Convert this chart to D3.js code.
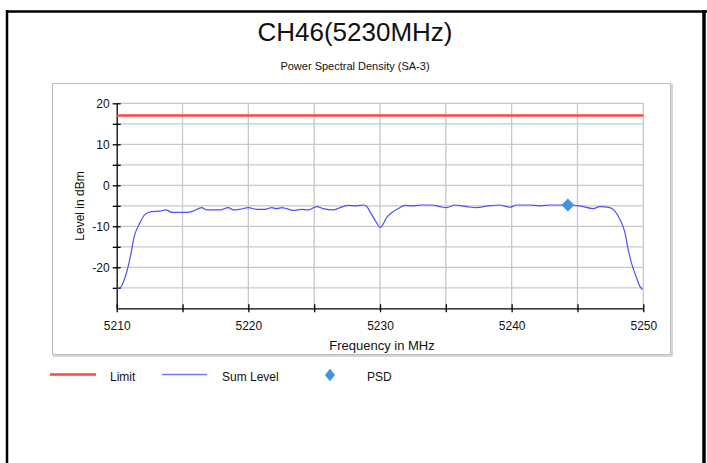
<!DOCTYPE html>
<html lang="en">
<head>
<meta charset="utf-8">
<title>CH46(5230MHz)</title>
<script src="https://d3js.org/d3.v7.min.js"></script>
<style>
  body { margin: 0; background: #fff; }
  svg { display: block; font-family: "Liberation Sans", Arial, sans-serif; }
</style>
</head>
<body>
<svg id="chart" width="707" height="463"></svg>
<script>
// values
const chartTitle = "CH46(5230MHz)";
const plotTitle = "Power Spectral Density (SA-3)";
const xLabel = "Frequency in MHz";
const yLabel = "Level in dBm";

const freqs = [5210.0, 5210.25, 5210.63, 5211.0, 5211.34, 5211.77, 5212.15, 5212.66, 5213.3, 5213.74,
  5214.18, 5215.3, 5215.8, 5216.45, 5216.83, 5217.84, 5218.48, 5218.86, 5219.36, 5220.0,
  5220.63, 5221.26, 5221.77, 5222.15, 5222.53, 5222.9, 5223.4, 5224.05, 5224.55, 5225.19,
  5225.69, 5226.45, 5226.96, 5227.59, 5228.2, 5228.72, 5228.93, 5229.36, 5229.74, 5230.02,
  5230.5, 5230.88, 5231.38, 5231.89, 5232.52, 5233.16, 5233.92, 5234.55, 5235.06, 5235.69,
  5236.58, 5237.34, 5238.22, 5239.1, 5239.86, 5240.37, 5241.38, 5242.14, 5242.9, 5244.27,
  5245.18, 5246.19, 5246.7, 5247.46, 5247.84, 5248.22, 5248.6, 5248.85, 5249.1, 5249.48,
  5249.73, 5249.94];
const sumLevel = [-25.1, -25.0, -22.5, -18.0, -12.4, -9.1, -7.1, -6.4, -6.3, -6.0,
  -6.6, -6.6, -6.3, -5.45, -6.0, -6.0, -5.45, -6.0, -5.85, -5.45,
  -5.85, -5.85, -5.45, -5.7, -5.45, -5.7, -6.1, -5.85, -6.0, -5.2,
  -5.7, -6.0, -5.45, -4.9, -5.0, -4.8, -5.0, -7.1, -9.1, -10.3,
  -7.9, -6.7, -5.7, -4.9, -5.0, -4.8, -4.8, -5.2, -5.45, -4.8,
  -5.2, -5.45, -5.0, -4.8, -5.35, -4.8, -4.8, -5.0, -4.8, -4.8,
  -5.0, -5.7, -5.2, -5.45, -6.3, -8.3, -11.5, -15.6, -18.9, -22.5,
  -24.6, -25.4];

const limitLevel = 17;
const psdFreq = 5244.27;
const psdLevel = -4.8;

const xDomain = [5210, 5250];
const yDomain = [-30, 20];
const xTickValues = [5210, 5215, 5220, 5225, 5230, 5235, 5240, 5245, 5250];
const yTickValues = [-25, -20, -15, -10, -5, 0, 5, 10, 15, 20];

const legendItems = ["Limit", "Sum Level", "PSD"];

const colors = { limit: "#ff4444", sum: "#4f4fff", psd: "#3c96e0", grid: "#c8c8c8" };

const svg = d3.select("#chart");

// outer frame
svg.append("line").attr("x1", 6).attr("x2", 707).attr("y1", 11.5).attr("y2", 11.5)
  .attr("stroke", "#000").attr("stroke-width", 2.5);
svg.append("line").attr("x1", 7).attr("x2", 7).attr("y1", 10).attr("y2", 463)
  .attr("stroke", "#000").attr("stroke-width", 2.5);
svg.append("line").attr("x1", 704).attr("x2", 704).attr("y1", 10).attr("y2", 463)
  .attr("stroke", "#000").attr("stroke-width", 3.5);

svg.append("text").attr("x", 355).attr("y", 41).attr("text-anchor", "middle")
  .attr("font-size", 26).attr("fill", "#111").text(chartTitle);
svg.append("text").attr("x", 355).attr("y", 70).attr("text-anchor", "middle")
  .attr("font-size", 11).attr("fill", "#111").text(plotTitle);

// chart panel with a light shadow
svg.append("rect").attr("x", 52.5).attr("y", 83.5).attr("width", 618).attr("height", 271)
  .attr("fill", "#fff").attr("stroke", "#bdbdbd");
svg.append("line").attr("x1", 672).attr("x2", 672).attr("y1", 84).attr("y2", 356)
  .attr("stroke", "#d6d6d6").attr("stroke-width", 2);
svg.append("line").attr("x1", 53).attr("x2", 672).attr("y1", 356).attr("y2", 356)
  .attr("stroke", "#d6d6d6").attr("stroke-width", 2);

const x = d3.scaleLinear().domain(xDomain).range([116.7, 643.3]);
const y = d3.scaleLinear().domain(yDomain).range([308.3, 103.3]);

// grid
svg.append("g").selectAll("line").data(xTickValues.slice(1)).join("line")
  .attr("x1", d => x(d)).attr("x2", d => x(d)).attr("y1", y(yDomain[0])).attr("y2", y(20))
  .attr("stroke", colors.grid).attr("stroke-width", 1.3);
svg.append("g").selectAll("line").data(yTickValues).join("line")
  .attr("x1", x(xDomain[0])).attr("x2", x(xDomain[1])).attr("y1", d => y(d)).attr("y2", d => y(d))
  .attr("stroke", colors.grid).attr("stroke-width", 1.3);

// axes, ticks crossing the axis line
const yAxis = svg.append("g").attr("transform", `translate(${x(xDomain[0])},0)`)
  .call(d3.axisLeft(y).tickValues(yTickValues).tickSize(4).tickSizeOuter(0)
    .tickFormat(d => d % 10 === 0 ? d : ""));
yAxis.selectAll(".tick line").attr("x1", -4).attr("x2", 4);
yAxis.selectAll(".tick text").attr("x", -7);

const xAxis = svg.append("g").attr("transform", `translate(0,${y(yDomain[0])})`)
  .call(d3.axisBottom(x).tickValues(xTickValues).tickSize(4).tickSizeOuter(0)
    .tickFormat(d => d % 10 === 0 ? d : ""));
xAxis.selectAll(".tick line").attr("y1", -4).attr("y2", 4);
xAxis.selectAll(".tick text").attr("y", 13);

svg.selectAll(".domain").attr("stroke", "#000").attr("stroke-width", 1.3);
svg.selectAll(".tick line").attr("stroke", "#000").attr("stroke-width", 1.3);
svg.selectAll(".tick text").attr("font-size", 12).attr("fill", "#111")
  .attr("font-family", "Liberation Sans, Arial, sans-serif");

svg.append("text").attr("x", 382).attr("y", 350).attr("text-anchor", "middle")
  .attr("font-size", 13).attr("fill", "#111").text(xLabel);
svg.append("text").attr("transform", "translate(84,206) rotate(-90)").attr("text-anchor", "middle")
  .attr("font-size", 12).attr("fill", "#111").text(yLabel);

// limit line
svg.append("line").attr("x1", x(xDomain[0])).attr("x2", x(xDomain[1]))
  .attr("y1", y(limitLevel)).attr("y2", y(limitLevel))
  .attr("stroke", colors.limit).attr("stroke-width", 2.5);

// sum level trace
const line = d3.line().x((d, i) => x(freqs[i])).y(d => y(d)).curve(d3.curveMonotoneX);
svg.append("path").datum(sumLevel).attr("d", line)
  .attr("fill", "none").attr("stroke", colors.sum).attr("stroke-width", 1.2);

// PSD marker: square turned 45 degrees
const diamond = d3.symbol().type(d3.symbolSquare).size(82);
svg.append("path").attr("d", diamond())
  .attr("transform", `translate(${x(psdFreq)},${y(psdLevel)}) rotate(45)`)
  .attr("fill", colors.psd);

// legend
const lg = svg.append("g").attr("font-size", 12).attr("fill", "#111");
lg.append("line").attr("x1", 50).attr("x2", 96).attr("y1", 374.5).attr("y2", 374.5)
  .attr("stroke", colors.limit).attr("stroke-width", 2.5);
lg.append("text").attr("x", 110).attr("y", 381).text(legendItems[0]);
lg.append("line").attr("x1", 162).attr("x2", 207).attr("y1", 374.5).attr("y2", 374.5)
  .attr("stroke", "#7777ff").attr("stroke-width", 1.5);
lg.append("text").attr("x", 222).attr("y", 381).text(legendItems[1]);
lg.append("path").attr("d", d3.symbol().type(d3.symbolSquare).size(64)())
  .attr("transform", "translate(330,375) scale(0.9,1.1) rotate(45)").attr("fill", colors.psd);
lg.append("text").attr("x", 367).attr("y", 381).text(legendItems[2]);
</script>
</body>
</html>
